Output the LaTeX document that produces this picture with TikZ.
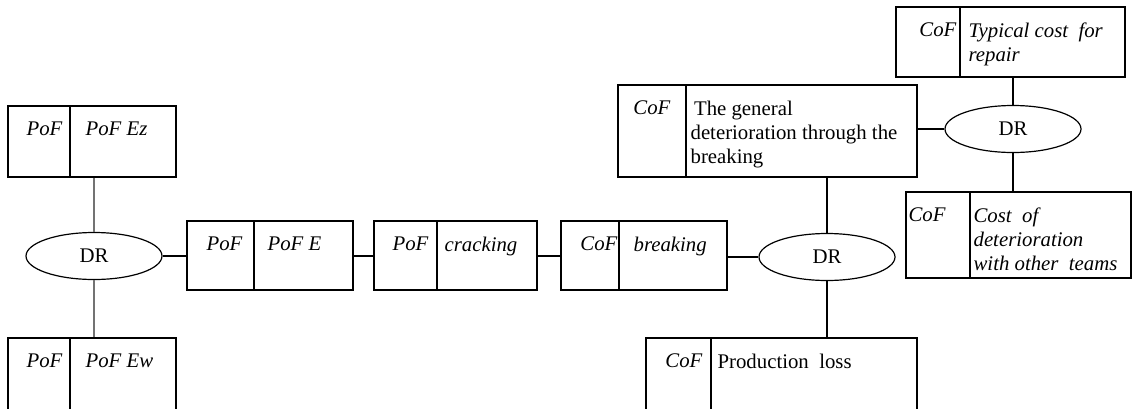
\documentclass[tikz,border=0pt]{standalone}
\usepackage{fontspec}
\setmainfont{Liberation Serif}
\usetikzlibrary{positioning,fit,shapes.geometric}

\begin{document}
\begin{tikzpicture}[
    x=0.5pt, y=-0.5pt,
    line width=0.6pt,
    every node/.style={font=\fontsize{10.4}{12}\selectfont},
    cell/.style={draw,rectangle,inner sep=0pt},
    tag/.style={inner sep=0pt,anchor=north east,font=\fontsize{10.4}{12}\selectfont\itshape},
    txt/.style={inner sep=0pt,anchor=north west,align=left},
    txti/.style={txt,font=\fontsize{10.4}{12}\selectfont\itshape},
    dr/.style={draw,ellipse,minimum width=68pt,minimum height=23.5pt,inner sep=0pt},
    soft/.style={draw=black!55}
]
\useasboundingbox (0,0) rectangle (1132,408);
\clip (0,0) rectangle (1132,408);

% Left decision with its two inputs
\node[dr] (dr1) at (94,256) {DR};

\node[cell,fit={(8,106)(176,177)}] (ez) {};
\draw (70,106) -- (70,177);
\node[tag] (ez-tag) at (63,121) {PoF};
\node[txti] (ez-txt) at (85,121) {PoF Ez};

\node[cell,fit={(8,338)(176,420)}] (ew) {};
\draw (70,338) -- (70,420);
\node[tag] (ew-tag) at (63,353) {PoF};
\node[txti] (ew-txt) at (85,353) {PoF Ew};

\draw[soft] (dr1.north) -- (dr1.north |- ez.south);
\draw[soft] (dr1.south) -- (dr1.south |- ew.north);

% Chain of events
\node[cell,fit={(187,221)(353,290)}] (poe) {};
\draw (254,221) -- (254,290);
\node[tag] (poe-tag) at (243,236) {PoF};
\node[txti] (poe-txt) at (267,236) {PoF E};

\node[cell,fit={(374,221)(537,290)}] (crack) {};
\draw (437,221) -- (437,290);
\node[tag] (crack-tag) at (429,236) {PoF};
\node[txti] (crack-txt) at (444,236) {cracking};

\node[cell,fit={(561,221)(727,290)}] (brk) {};
\draw (619,221) -- (619,290);
\node[tag] (brk-tag) at (618,236) {CoF};
\node[txti] (brk-txt) at (633,236) {breaking};

\draw (dr1.east) -- (dr1.east -| poe.west);
\draw (poe.east |- dr1.east) -- (crack.west |- dr1.east);
\draw (crack.east |- dr1.east) -- (brk.west |- dr1.east);

% Middle decision
\node[dr] (dr2) at (827,257) {DR};
\draw (brk.east |- dr2.west) -- (dr2.west);

\node[cell,fit={(618,85)(917,177)}] (gen) {};
\draw (686,85) -- (686,177);
\node[tag] (gen-tag) at (671,100) {CoF};
\node[txt] (gen-txt) at (690,100) {\,The general\\deterioration through the\\breaking};

\node[cell,fit={(646,338)(917,420)}] (prod) {};
\draw (711,338) -- (711,420);
\node[tag] (prod-tag) at (703,353) {CoF};
\node[txt] (prod-txt) at (717,353) {Production\ \ loss};

\draw (dr2.north) -- (dr2.north |- gen.south);
\draw (dr2.south) -- (dr2.south |- prod.north);

% Right decision
\node[dr] (dr3) at (1013,129) {DR};
\draw (gen.east |- dr3.west) -- (dr3.west);

\node[cell,fit={(896,7)(1125,77)}] (typ) {};
\draw (960,7) -- (960,77);
\node[tag] (typ-tag) at (957,22) {CoF};
\node[txti] (typ-txt) at (968,22) {Typical cost\ \ for\\repair};

\node[cell,fit={(906,192)(1131,278)}] (cost) {};
\draw (970,192) -- (970,278);
\node[tag,anchor=north west] (cost-tag) at (908,207) {CoF};
\node[txti] (cost-txt) at (973,207) {Cost\ \ of\\deterioration\\with other\ \ teams};

\draw (dr3.north) -- (dr3.north |- typ.south);
\draw (dr3.south) -- (dr3.south |- cost.north);

\end{tikzpicture}
\end{document}
